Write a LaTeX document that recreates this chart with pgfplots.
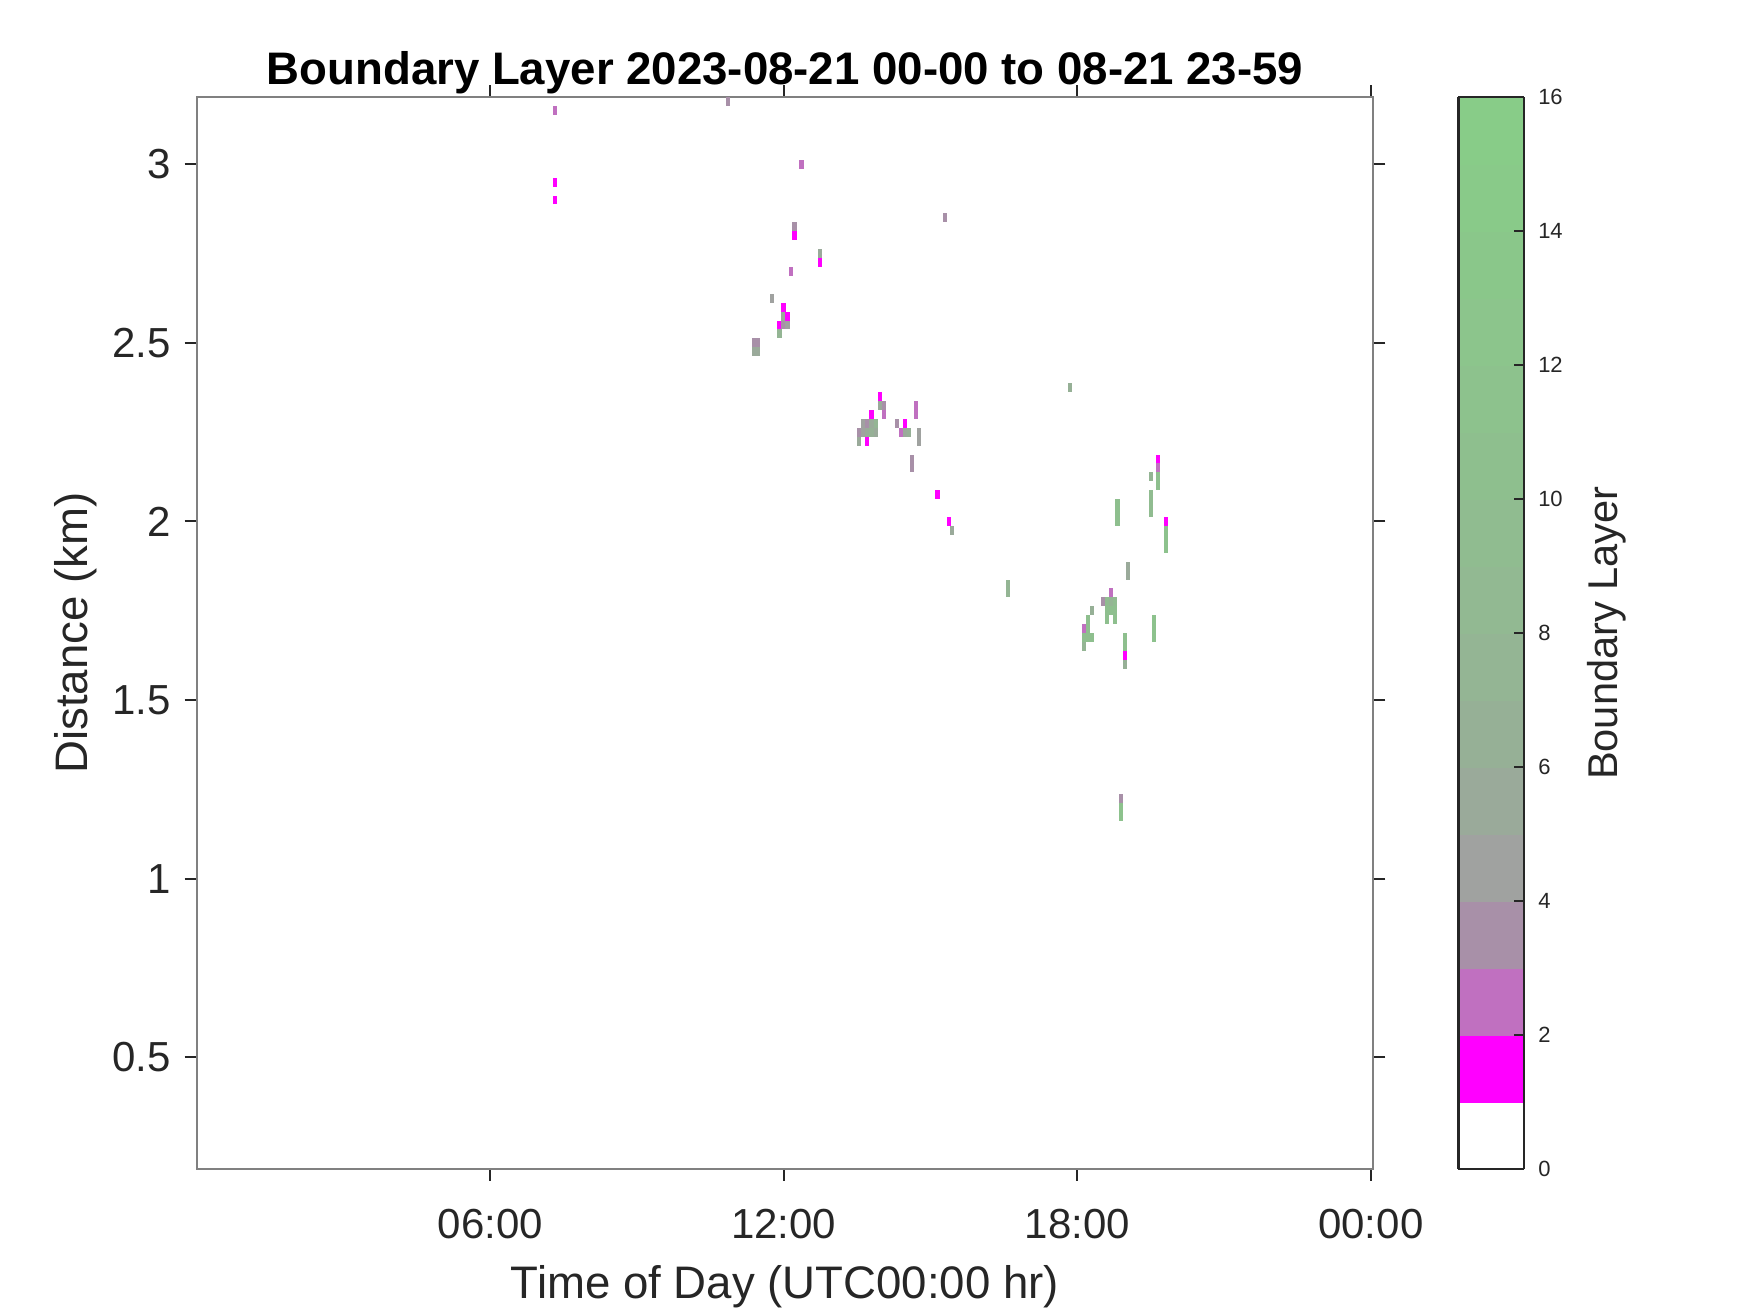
\documentclass[border=0pt]{standalone}
\usepackage{pgfplots}
\pgfplotsset{compat=1.18}
\usepackage{fontspec}
\setmainfont{Liberation Sans}
\definecolor{axgray}{RGB}{38,38,38}
\pgfdeclareplotmark{cell}{\pgfpathrectangle{\pgfpoint{-0.51pt}{-1.117pt}}{\pgfpoint{1.02pt}{2.234pt}}\pgfusepathqfill}
\begin{document}
\begin{tikzpicture}
\useasboundingbox (-49.175pt,-36pt) rectangle ++(437.5pt,328.25pt);
\begin{axis}[
  at={(0,0)}, anchor=south west,
  scale only axis, width=294.15pt, height=267.925pt,
  xmin=0, xmax=24.05, ymin=0.1875, ymax=3.1875,
  xtick={6,12,18,24}, xticklabels={06:00,12:00,18:00,00:00},
  ytick={0.5,1,1.5,2,2.5,3},
  tick align=outside, major tick length=3pt,
  axis line style={draw=black!50, line width=0.5pt},
  every tick/.style={draw=axgray, line width=0.5pt},
  tick label style={font=\fontsize{10.5}{12}\selectfont, text=axgray},
  /pgf/number format/assume math mode=true,
  xticklabel style={anchor=base, yshift=-14.4pt},
  xlabel={Time of Day (UTC00:00 hr)}, ylabel={Distance (km)},
  xlabel style={at={(0.5,0)}, anchor=base, yshift=-32.5pt, font=\fontsize{11.4}{13}\selectfont, text=axgray},
  ylabel style={at={(0,0.5)}, anchor=center, yshift=30.35pt, font=\fontsize{11.4}{13}\selectfont, text=axgray},
  title={Boundary Layer 2023-08-21 00-00 to 08-21 23-59},
  title style={font=\bfseries\fontsize{11.4}{13}\selectfont, at={(0.5,1)}, anchor=base, yshift=-2.8pt},
  colormap={blmap}{rgb255=(255,255,255) rgb255=(255,0,255) rgb255=(192,112,192) rgb255=(168,144,168) rgb255=(160,162,160) rgb255=(154,170,154) rgb255=(150,176,150) rgb255=(148,181,148) rgb255=(146,185,146) rgb255=(144,188,144) rgb255=(142,191,142) rgb255=(141,194,141) rgb255=(140,197,140) rgb255=(138,199,138) rgb255=(137,202,137) rgb255=(136,204,136)},
  colormap access=piecewise constant,
  point meta min=0, point meta max=16,
  colorbar,
  colorbar style={
    at={(parent axis.north east)}, anchor=north west, xshift=12.75pt,
    width=16.425pt,
    ytick={0,2,...,16},
    yticklabel pos=right, ytick pos=right,
    tick align=inside, major tick length=2.5pt,
    every tick/.style={draw=axgray, line width=0.5pt},
    axis line style={draw=axgray, line width=0.6pt},
    /pgf/number format/assume math mode=true,
    yticklabel style={font=\fontsize{5.5}{6}\selectfont, text=axgray},
    ylabel={Boundary Layer},
    ylabel style={at={(1,0.5)}, anchor=center, yshift=-20.75pt, font=\fontsize{10.4}{12}\selectfont, text=axgray},
  },
]
\addplot[scatter, only marks, mark=cell, point meta=explicit] table[meta=c] {
x y c
7.324 3.150 2.5
7.324 2.950 1.5
7.324 2.900 1.5
10.861 3.175 3.5
11.392 2.500 3.5
11.474 2.500 3.5
11.392 2.475 5.5
11.474 2.475 5.5
11.760 2.625 4.5
11.913 2.550 1.5
11.913 2.525 7.5
11.995 2.600 1.5
11.995 2.575 5.5
11.995 2.550 3.5
12.077 2.575 1.5
12.077 2.550 4.5
12.140 2.700 2.5
12.220 2.825 3.5
12.220 2.800 1.5
12.363 3.000 2.5
12.741 2.750 5.5
12.741 2.725 1.5
15.296 2.850 3.5
13.960 2.350 1.5
13.960 2.325 5.5
14.043 2.325 3.5
13.793 2.300 1.5
14.043 2.300 2.5
13.627 2.275 4.5
13.710 2.275 3.5
13.793 2.275 5.5
13.877 2.275 7.5
13.543 2.250 3.5
13.627 2.250 4.5
13.710 2.250 5.5
13.793 2.250 6.5
13.877 2.250 5.5
13.543 2.225 5.5
13.710 2.225 1.5
14.310 2.275 3.5
14.477 2.275 1.5
14.393 2.250 2.5
14.477 2.250 5.5
14.560 2.250 6.5
14.697 2.325 2.5
14.697 2.300 2.5
14.765 2.250 4.5
14.765 2.225 4.5
14.622 2.175 3.5
14.622 2.150 3.5
15.143 2.075 1.5
15.368 2.000 1.5
15.440 1.975 5.5
17.852 2.375 6.5
16.574 1.825 7.5
16.574 1.800 7.5
19.650 2.175 1.5
19.650 2.150 2.5
19.650 2.125 10.5
19.650 2.100 10.5
19.497 2.125 7.5
19.497 2.075 9.5
19.497 2.050 9.5
19.497 2.025 9.5
18.822 2.050 10.5
18.822 2.025 10.5
18.822 2.000 10.5
19.804 2.000 1.5
19.804 1.975 11.5
19.804 1.950 11.5
19.804 1.925 11.5
19.043 1.875 5.5
19.043 1.850 5.5
18.693 1.800 2.5
18.526 1.775 3.5
18.609 1.775 9.5
18.693 1.775 7.5
18.777 1.775 9.5
18.609 1.750 10.5
18.693 1.750 10.5
18.777 1.750 10.5
18.297 1.750 6.5
18.609 1.725 10.5
18.777 1.725 10.5
18.219 1.725 10.5
18.219 1.700 10.5
18.136 1.700 2.5
18.136 1.675 10.5
18.219 1.675 10.5
18.302 1.675 10.5
18.136 1.650 7.5
18.970 1.675 10.5
18.970 1.650 10.5
18.970 1.625 1.5
18.970 1.600 6.5
19.569 1.725 11.5
19.569 1.700 11.5
19.569 1.675 11.5
18.894 1.225 3.5
18.894 1.200 11.5
18.894 1.175 11.5
};
\end{axis}
\end{tikzpicture}
\end{document}
